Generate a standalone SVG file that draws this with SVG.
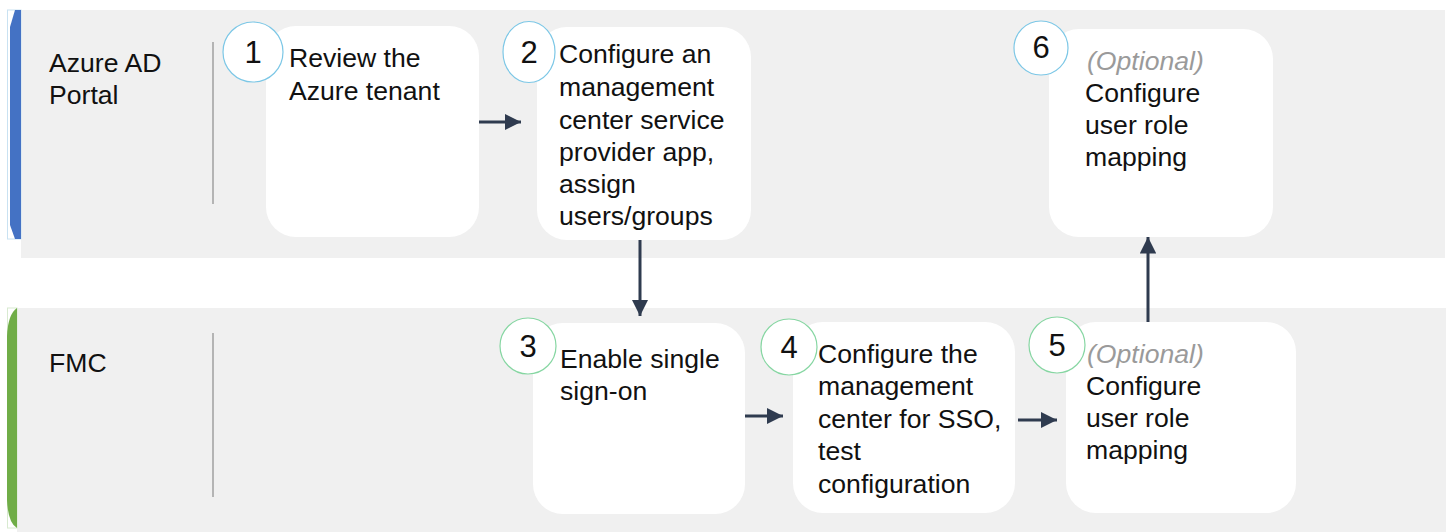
<svg xmlns="http://www.w3.org/2000/svg" width="1455" height="532" viewBox="0 0 1455 532">
<defs>
<style>
.lane{fill:#f0f0f0}
.node{fill:#ffffff}
.t{font-family:"Liberation Sans",Arial,sans-serif;font-size:26.6px;fill:#111}
.opt{font-style:italic;fill:#9a9a9a}
.num{font-family:"Liberation Sans",Arial,sans-serif;font-size:31px;fill:#111;text-anchor:middle}
.cb{fill:#fff;stroke:#7cc7e6;stroke-width:1.2}
.cg{fill:#fff;stroke:#86d6a2;stroke-width:1.2}
.div{stroke:#8c8c8c;stroke-width:1.2}
.conn{stroke:#2f3b4f;stroke-width:3;fill:none}
</style>
<marker id="ah" viewBox="0 0 10 10" refX="10" refY="5" markerWidth="5.5" markerHeight="5.5" markerUnits="strokeWidth" orient="auto">
<path d="M0,0 L10,5 L0,10 Z" fill="#2f3b4f"/>
</marker>
</defs>
<rect width="1455" height="532" fill="#ffffff"/>
<g id="lane-azure">
<rect class="lane" x="21" y="10" width="1424" height="248"/>
<rect x="7.5" y="10" width="13.5" height="229" fill="none" stroke="#c9e2f2" stroke-width="1"/>
<path d="M15,10 L21,10 L21,239 L15,239 L10,225 L10,27 Z" fill="#4472c4"/>
<line class="div" x1="213" y1="42" x2="213" y2="204"/>
<text class="t" x="49" y="72">Azure AD</text>
<text class="t" x="49" y="103.5">Portal</text>
</g>
<g id="lane-fmc">
<rect class="lane" x="17" y="308" width="1429" height="224"/>
<rect x="7.5" y="308" width="9.5" height="220" fill="none" stroke="#d8ead0" stroke-width="1"/>
<path d="M17,308 Q8,314 7,336 L7,500 Q8,523 17,528 Z" fill="#70ad47"/>
<line class="div" x1="213" y1="333" x2="213" y2="497"/>
<text class="t" x="49" y="372">FMC</text>
</g>
<g id="connectors">
<line class="conn" x1="479" y1="122" x2="521" y2="122" marker-end="url(#ah)"/>
<line class="conn" x1="640" y1="240" x2="640" y2="316" marker-end="url(#ah)"/>
<line class="conn" x1="745" y1="416" x2="783" y2="416" marker-end="url(#ah)"/>
<line class="conn" x1="1018" y1="420" x2="1057" y2="420" marker-end="url(#ah)"/>
<line class="conn" x1="1148" y1="322" x2="1148" y2="237" marker-end="url(#ah)"/>
</g>
<g id="node1">
<rect class="node" x="266" y="26" width="213" height="211" rx="30"/>
<circle class="cb" cx="253" cy="52" r="30"/>
<text class="num" x="253" y="63">1</text>
<text class="t" x="289" y="67">Review the</text>
<text class="t" x="289" y="100">Azure tenant</text>
</g>
<g id="node2">
<rect class="node" x="537" y="27" width="214" height="213" rx="30"/>
<ellipse class="cb" cx="529" cy="52" rx="26" ry="30.5"/>
<text class="num" x="529" y="63">2</text>
<text class="t" x="559" y="63">Configure an</text>
<text class="t" x="559" y="96">management</text>
<text class="t" x="559" y="129">center service</text>
<text class="t" x="559" y="161">provider app,</text>
<text class="t" x="559" y="193">assign</text>
<text class="t" x="559" y="225">users/groups</text>
</g>
<g id="node6">
<rect class="node" x="1049" y="29" width="224" height="208" rx="30"/>
<circle class="cb" cx="1041" cy="48" r="27"/>
<text class="num" x="1041" y="58">6</text>
<text class="t opt" x="1087" y="70">(Optional)</text>
<text class="t" x="1085" y="102">Configure</text>
<text class="t" x="1085" y="134">user role</text>
<text class="t" x="1085" y="166">mapping</text>
</g>
<g id="node3">
<rect class="node" x="533" y="323" width="212" height="191" rx="30"/>
<circle class="cg" cx="528" cy="346" r="28"/>
<text class="num" x="528" y="357">3</text>
<text class="t" x="560" y="368">Enable single</text>
<text class="t" x="560" y="400">sign-on</text>
</g>
<g id="node4">
<rect class="node" x="793" y="322" width="222" height="191" rx="30"/>
<circle class="cg" cx="789" cy="347" r="28"/>
<text class="num" x="789" y="358">4</text>
<text class="t" x="818" y="363">Configure the</text>
<text class="t" x="818" y="395">management</text>
<text class="t" x="818" y="428">center for SSO,</text>
<text class="t" x="818" y="460">test</text>
<text class="t" x="818" y="493">configuration</text>
</g>
<g id="node5">
<rect class="node" x="1066" y="322" width="230" height="191" rx="30"/>
<circle class="cg" cx="1057" cy="345" r="28"/>
<text class="num" x="1057" y="356">5</text>
<text class="t opt" x="1087" y="363">(Optional)</text>
<text class="t" x="1086" y="395">Configure</text>
<text class="t" x="1086" y="427">user role</text>
<text class="t" x="1086" y="459">mapping</text>
</g>
</svg>
